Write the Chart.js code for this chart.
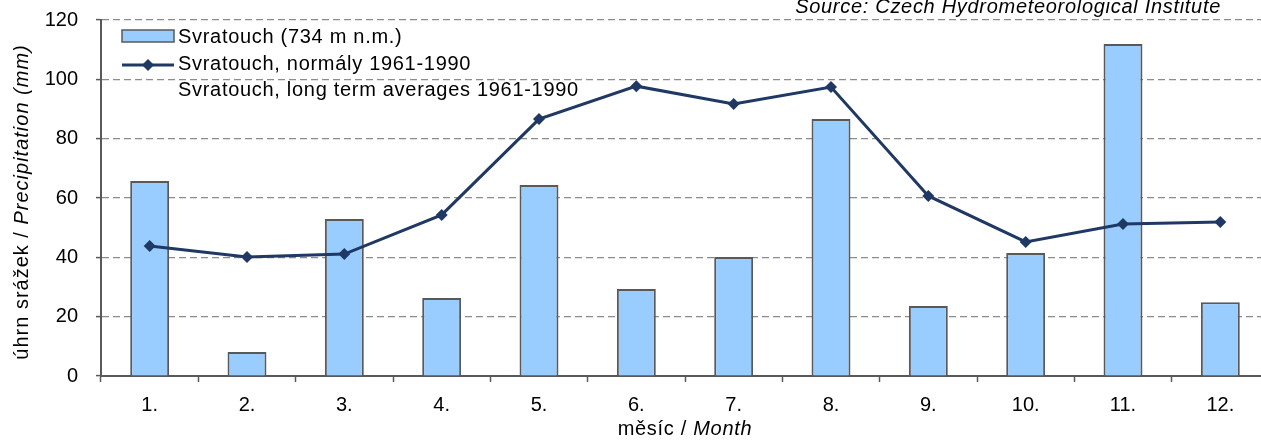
<!DOCTYPE html>
<html>
<head>
<meta charset="utf-8">
<script src="https://cdn.jsdelivr.net/npm/chart.js@4"></script>
<style>
    html, body {
        margin: 0;
        padding: 0;
        background: #ffffff;
        overflow: hidden;
    }
    #wrap {
        width: 1261px;
        height: 443px;
        overflow: hidden;
    }
</style>
</head>
<body>
<div id="wrap">
    <canvas id="canvas" width="1275" height="443"></canvas>
</div>
<script>
const months = ['1.', '2.', '3.', '4.', '5.', '6.', '7.', '8.', '9.', '10.', '11.', '12.'];
const precipitation = [65.7, 8.1, 52.9, 26.3, 64.4, 29.3, 40.1, 86.6, 23.6, 41.5, 111.9, 24.9];
const normals = [43.8, 40.1, 41.1, 54.3, 86.6, 97.7, 91.7, 97.4, 60.7, 45.2, 51.2, 51.9];
const yTicks = [0, 20, 40, 60, 80, 100, 120];

const barLabel = 'Svratouch (734 m n.m.)';
const lineLabel = 'Svratouch, normály 1961-1990';
const lineLabel2 = 'Svratouch, long term averages 1961-1990';
const sourceText = 'Source: Czech Hydrometeorological Institute';

const FONT = '"Liberation Sans", Arial, sans-serif';
const BAR_FILL = '#99ccff';
const BAR_EDGE = '#595959';
const LINE_COLOR = '#1f3864';

// legend, axis titles and source note are drawn by hand (mixed italic text)
const extras = {
    id: 'extras',
    afterDraw(chart) {
        const ctx = chart.ctx;
        const area = chart.chartArea;
        ctx.save();
        ctx.fillStyle = '#000';
        ctx.textBaseline = 'middle';

        // legend
        const lx = area.left + 21;
        ctx.fillStyle = BAR_FILL;
        ctx.fillRect(lx, 30, 52, 12);
        ctx.strokeStyle = BAR_EDGE;
        ctx.lineWidth = 1.5;
        ctx.strokeRect(lx, 30, 52, 12);

        ctx.strokeStyle = LINE_COLOR;
        ctx.lineWidth = 3;
        ctx.beginPath();
        ctx.moveTo(lx, 65);
        ctx.lineTo(lx + 52, 65);
        ctx.stroke();
        ctx.fillStyle = LINE_COLOR;
        ctx.beginPath();
        ctx.moveTo(lx + 26, 59);
        ctx.lineTo(lx + 32, 65);
        ctx.lineTo(lx + 26, 71);
        ctx.lineTo(lx + 20, 65);
        ctx.closePath();
        ctx.fill();

        ctx.fillStyle = '#000';
        ctx.letterSpacing = '0.7px';
        ctx.font = '20px ' + FONT;
        ctx.textAlign = 'left';
        ctx.fillText(barLabel, lx + 56, 37);
        ctx.fillText(lineLabel, lx + 56, 64);
        ctx.fillText(lineLabel2, lx + 56, 90);

        // source
        ctx.font = 'italic 20px ' + FONT;
        ctx.textAlign = 'right';
        ctx.textBaseline = 'alphabetic';
        ctx.fillText(sourceText, 1221, 13);

        // x title
        ctx.textBaseline = 'middle';
        const xa = 'měsíc / ', xb = 'Month';
        ctx.font = '20px ' + FONT;
        const wa = ctx.measureText(xa).width;
        ctx.font = 'italic 20px ' + FONT;
        const wb = ctx.measureText(xb).width;
        let x0 = (area.left + area.right) / 2 - (wa + wb) / 2;
        ctx.textAlign = 'left';
        ctx.font = '20px ' + FONT;
        ctx.fillText(xa, x0, 429);
        ctx.font = 'italic 20px ' + FONT;
        ctx.fillText(xb, x0 + wa, 429);

        // y title
        ctx.letterSpacing = '1px';
        const ya = 'úhrn srážek / ', yb = 'Precipitation (mm)';
        ctx.translate(22, 202);
        ctx.rotate(-Math.PI / 2);
        ctx.font = '20px ' + FONT;
        const ha = ctx.measureText(ya).width;
        ctx.font = 'italic 20px ' + FONT;
        const hb = ctx.measureText(yb).width;
        x0 = -(ha + hb) / 2;
        ctx.font = '20px ' + FONT;
        ctx.fillText(ya, x0, 0);
        ctx.font = 'italic 20px ' + FONT;
        ctx.fillText(yb, x0 + ha, 0);
        ctx.restore();
    }
};

new Chart(document.getElementById('canvas').getContext('2d'), {
    data: {
        labels: months,
        datasets: [{
            type: 'line',
            label: lineLabel,
            data: normals,
            borderColor: LINE_COLOR,
            backgroundColor: LINE_COLOR,
            borderWidth: 3,
            pointStyle: 'rectRot',
            pointRadius: 6,
            pointBorderWidth: 0,
            tension: 0,
            order: 0
        }, {
            type: 'bar',
            label: barLabel,
            data: precipitation,
            backgroundColor: BAR_FILL,
            borderColor: BAR_EDGE,
            borderWidth: 2,
            barPercentage: 0.4,
            categoryPercentage: 1,
            order: 1
        }]
    },
    options: {
        responsive: false,
        animation: false,
        devicePixelRatio: 1,
        layout: { padding: { top: 20, right: 3, left: 0, bottom: 0 } },
        plugins: {
            legend: { display: false },
            tooltip: { enabled: false }
        },
        scales: {
            x: {
                offset: true,
                afterFit: s => { s.height = 67; s.paddingLeft = 0; s.paddingRight = 0; },
                grid: {
                    offset: true,
                    drawOnChartArea: false,
                    tickLength: 6,
                    tickColor: '#595959',
                    tickWidth: 1.5
                },
                border: { color: '#595959', width: 2 },
                ticks: {
                    color: '#000',
                    padding: 11,
                    font: { family: FONT, size: 20 }
                }
            },
            y: {
                min: 0,
                max: 120,
                afterFit: s => { s.width = 101; s.paddingTop = 0; s.paddingBottom = 0; },
                afterBuildTicks: s => { s.ticks = yTicks.map(v => ({ value: v })); },
                grid: {
                    color: '#8c8c8c',
                    lineWidth: 1.2,
                    tickBorderDash: [],
                    tickColor: '#595959',
                    tickLength: 5,
                    tickWidth: 1.5
                },
                border: { color: '#595959', width: 2, dash: [7, 4] },
                ticks: {
                    color: '#000',
                    padding: 18,
                    font: { family: FONT, size: 20 }
                }
            }
        }
    },
    plugins: [extras]
});
</script>
</body>
</html>
